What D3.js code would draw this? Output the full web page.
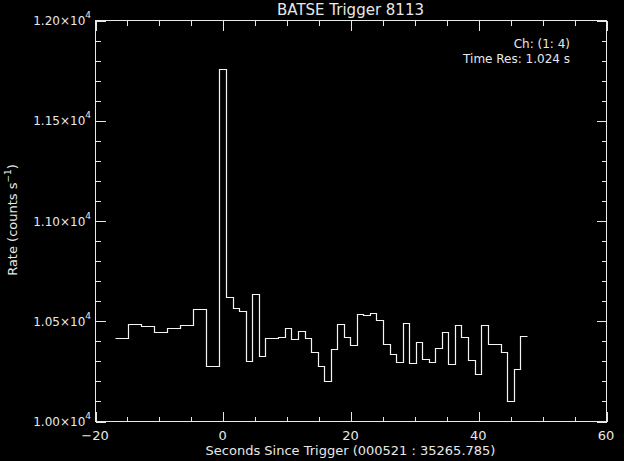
<!DOCTYPE html>
<html lang="en">
<head>
<meta charset="utf-8">
<title>BATSE Trigger 8113</title>
<script src="https://d3js.org/d3.v7.min.js"></script>
<style>
  html, body { margin: 0; padding: 0; background: #000; }
  svg { display: block; }
  text { fill: #e8e8e8; font-family: "DejaVu Sans", sans-serif; }
</style>
</head>
<body>
<script>
// 2.048 s bins before the trigger, 1.024 s bins from the trigger on
const coarseStart = -16.896
const coarseWidth = 2.048
const coarseRates = [10412, 10482, 10472, 10442, 10462, 10477, 10560, 10274]

const fineStart = -0.512
const fineWidth = 1.024
const fineRates = [11756,
  10617, 10565, 10550, 10301, 10633, 10324, 10412, 10412, 10417, 10462,
  10407, 10447, 10412, 10346, 10276, 10201, 10359, 10482, 10417, 10379,
  10535, 10530, 10540, 10505, 10384, 10332, 10296, 10487, 10291, 10394,
  10311, 10296, 10364, 10442, 10286, 10477, 10417, 10304, 10236, 10477,
  10384, 10384, 10344, 10100, 10259, 10422]

const xMajor = [-20, 0, 20, 40, 60]
const xMinor = [-15, -10, -5, 5, 10, 15, 25, 30, 35, 45, 50, 55]
const yMajor = [10000, 10500, 11000, 11500, 12000]
const yMinor = [10100, 10200, 10300, 10400, 10600, 10700, 10800, 10900,
  11100, 11200, 11300, 11400, 11600, 11700, 11800, 11900]
const yLabels = ["1.00", "1.05", "1.10", "1.15", "1.20"]

const box = { left: 95, right: 606, top: 20, bottom: 421 }
const fg = "#e8e8e8"

const svg = d3.select("body").append("svg")
  .attr("width", 624)
  .attr("height", 461)

svg.append("rect")
  .attr("width", 624).attr("height", 461).attr("fill", "#000")

const x = d3.scaleLinear().domain([-20, 60]).range([box.left, box.right])
const y = d3.scaleLinear().domain([10000, 12000]).range([box.bottom, box.top])

// frame
svg.append("rect")
  .attr("x", box.left + 0.5).attr("y", box.top + 0.5)
  .attr("width", box.right - box.left).attr("height", box.bottom - box.top)
  .attr("fill", "none").attr("stroke", fg)

function ticks(axis, pos, values, size) {
  const g = svg.append("g")
    .attr("transform", pos)
    .call(axis.tickValues(values).tickSize(-size).tickFormat(""))
  g.select(".domain").remove()
  g.selectAll("line").attr("stroke", fg).attr("shape-rendering", "crispEdges")
  return g
}

ticks(d3.axisBottom(x), `translate(0.5,${box.bottom + 0.5})`, xMajor, 10)
ticks(d3.axisBottom(x), `translate(0.5,${box.bottom + 0.5})`, xMinor, 5)
ticks(d3.axisTop(x), `translate(0.5,${box.top + 0.5})`, xMajor, 10)
ticks(d3.axisTop(x), `translate(0.5,${box.top + 0.5})`, xMinor, 5)
ticks(d3.axisLeft(y), `translate(${box.left + 0.5},0.5)`, yMajor, 10)
ticks(d3.axisLeft(y), `translate(${box.left + 0.5},0.5)`, yMinor, 5)
ticks(d3.axisRight(y), `translate(${box.right + 0.5},0.5)`, yMajor, 10)
ticks(d3.axisRight(y), `translate(${box.right + 0.5},0.5)`, yMinor, 5)

// x tick labels
svg.append("g").selectAll("text")
  .data(xMajor)
  .join("text")
  .attr("x", d => x(d))
  .attr("y", 440)
  .attr("text-anchor", "middle")
  .style("font-size", "13px")
  .text(d => d < 0 ? "\u2212" + Math.abs(d) : d)

// y tick labels with exponent
const yl = svg.append("g").selectAll("text")
  .data(yMajor)
  .join("text")
  .attr("x", 91)
  .attr("y", d => y(d) + 5)
  .attr("text-anchor", "end")
  .style("font-size", "12px")
yl.append("tspan").text((d, i) => yLabels[i] + "\u00d710")
yl.append("tspan").attr("dy", -7).style("font-size", "9px").text("4")

// histogram
const bins = []
coarseRates.forEach((r, i) => bins.push([coarseStart + i * coarseWidth, r]))
fineRates.forEach((r, i) => bins.push([fineStart + i * fineWidth, r]))
bins.push([fineStart + fineRates.length * fineWidth, fineRates[fineRates.length - 1]])

const line = d3.line()
  .x(d => Math.round(x(d[0])) + 0.5)
  .y(d => Math.round(y(d[1])) + 0.5)
  .curve(d3.curveStepAfter)

svg.append("path")
  .datum(bins)
  .attr("d", line)
  .attr("fill", "none")
  .attr("stroke", "#f4f4f4")
  .attr("stroke-width", 1.2)

// titles
svg.append("text")
  .attr("x", (box.left + box.right) / 2)
  .attr("y", 15)
  .attr("text-anchor", "middle")
  .style("font-size", "15px")
  .text("BATSE Trigger 8113")

svg.append("text")
  .attr("x", (box.left + box.right) / 2)
  .attr("y", 455)
  .attr("text-anchor", "middle")
  .style("font-size", "13px")
  .text("Seconds Since Trigger (000521 : 35265.785)")

const ylab = svg.append("text")
  .attr("transform", "translate(17,220) rotate(-90)")
  .attr("text-anchor", "middle")
  .style("font-size", "13px")
ylab.append("tspan").text("Rate (counts s")
ylab.append("tspan").attr("dy", -6).style("font-size", "9px").text("\u22121")
ylab.append("tspan").attr("dy", 6).text(")")

svg.append("text")
  .attr("x", 570).attr("y", 48)
  .attr("text-anchor", "end")
  .style("font-size", "12px")
  .text("Ch: (1: 4)")

svg.append("text")
  .attr("x", 570).attr("y", 63)
  .attr("text-anchor", "end")
  .style("font-size", "12px")
  .text("Time Res: 1.024 s")
</script>
</body>
</html>
